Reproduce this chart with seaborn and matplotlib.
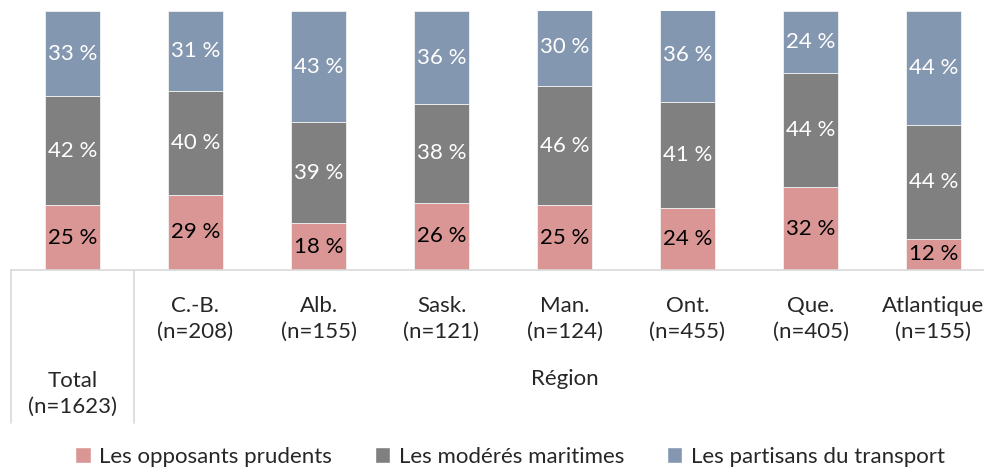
import matplotlib

matplotlib.use("Agg")
import matplotlib.pyplot as plt
from matplotlib.patches import Patch

import pandas as pd
import seaborn as sns

# Data
CATEGORIES = ["Total\n(n=1623)", "C.-B.\n(n=208)", "Alb.\n(n=155)", "Sask.\n(n=121)",
              "Man.\n(n=124)", "Ont.\n(n=455)", "Que.\n(n=405)", "Atlantique\n(n=155)"]
OPPOSANTS = [25, 29, 18, 26, 25, 24, 32, 12]
MODERES = [42, 40, 39, 38, 46, 41, 44, 44]
PARTISANS = [33, 31, 43, 36, 30, 36, 24, 44]
SERIES_NAMES = ["Les opposants prudents", "Les modérés maritimes", "Les partisans du transport"]
GROUP_LABEL = "Région"

COLORS = ["#D99694", "#808080", "#8497B0"]
LABEL_COLORS = ["black", "white", "white"]
FONT = 16

sns.set_theme(style="white")
plt.rcParams["font.family"] = ["Lato", "DejaVu Sans"]

df = pd.DataFrame({"cat": CATEGORIES, "opp": OPPOSANTS, "mod": MODERES, "par": PARTISANS})

fig = plt.figure(figsize=(9.84, 4.69), dpi=100)
ax = fig.add_axes([11 / 984, 199 / 469, 984 / 984, 259 / 469])

bottom = pd.Series([0] * len(df))
for col, color, lcolor in zip(["opp", "mod", "par"], COLORS, LABEL_COLORS):
    sns.barplot(data=df, x="cat", y=col, bottom=bottom, color=color, width=0.455,
                saturation=1, edgecolor="#F2F2F2", linewidth=0.6, ax=ax)
    for i, (b, v) in enumerate(zip(bottom, df[col])):
        ax.text(i, b + v / 2, f"{v} %", ha="center", va="center", color=lcolor,
                fontsize=FONT)
    bottom = bottom + df[col]

ax.set_xlim(-0.5, 7.5)
ax.set_ylim(0, 100)
ax.set_xlabel("")
ax.set_ylabel("")
ax.set_yticks([])
ax.set_xticks([])
for s in ["top", "right", "left"]:
    ax.spines[s].set_visible(False)
ax.spines["bottom"].set_color("#D9D9D9")
ax.spines["bottom"].set_linewidth(1.2)

# two-level category axis
trans = ax.get_xaxis_transform()
axis_h = 259
for x in [-0.5, 0.5]:
    ax.plot([x, x], [0, -153 / axis_h], color="#D9D9D9", lw=1.2, transform=trans,
            clip_on=False)
for i, cat in enumerate(CATEGORIES[1:], start=1):
    ax.text(i, -49 / axis_h, cat, ha="center", va="center", fontsize=FONT,
            transform=trans, linespacing=1.35)
ax.text(0, -124 / axis_h, CATEGORIES[0], ha="center", va="center", fontsize=FONT,
        transform=trans, linespacing=1.35)
ax.text(4, -109 / axis_h, GROUP_LABEL, ha="center", va="center", fontsize=FONT,
        transform=trans)

handles = [Patch(facecolor=c, label=n) for c, n in zip(COLORS, SERIES_NAMES)]
fig.legend(handles=handles, loc="center", bbox_to_anchor=(510 / 984, 1 - 457 / 469),
           ncol=3, frameon=False, fontsize=FONT, handlelength=0.7, handleheight=0.7,
           handletextpad=0.4, columnspacing=1.9, borderpad=0)

fig.savefig("out.png", dpi=100)
